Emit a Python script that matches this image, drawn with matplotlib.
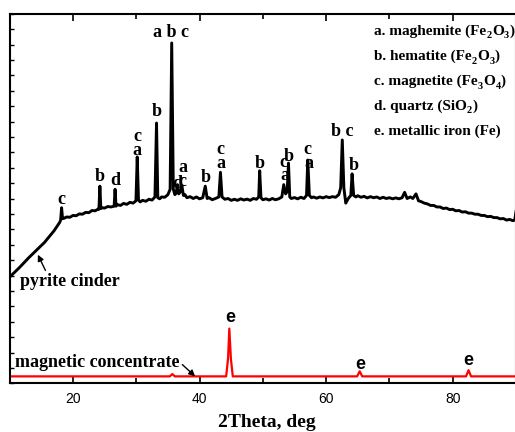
import matplotlib
matplotlib.use("Agg")
import matplotlib.pyplot as plt
from matplotlib.transforms import IdentityTransform

# ---- data ----
cinder_x = [10.0, 10.5, 11.0, 11.5, 12.0, 12.5, 13.0, 13.5, 14.0, 14.5, 15.0, 15.5, 16.0,
            16.5, 17.0, 17.5, 17.9, 18.05, 18.2, 18.35, 18.5, 19.0, 19.5, 20.0, 20.5, 21.0,
            21.5, 22.0, 22.5, 23.0, 23.5, 24.0, 24.1, 24.25, 24.4, 24.5, 25.0, 25.5, 26.0,
            26.5, 26.65, 26.8, 27.0, 27.5, 28.0, 28.5, 29.0, 29.5, 29.95, 30.15, 30.35, 30.6,
            31.0, 31.5, 32.0, 32.5, 32.95, 33.2, 33.4, 33.7, 34.0, 34.5, 35.0, 35.35, 35.6,
            35.85, 36.1, 36.3, 36.5, 36.7, 37.0, 37.2, 37.45, 37.7, 38.0, 38.5, 39.0, 39.5,
            40.0, 40.5, 40.9, 41.2, 41.5, 42.0, 42.5, 43.05, 43.3, 43.55, 44.0, 44.5, 45.0,
            45.5, 46.0, 46.5, 47.0, 47.5, 48.0, 48.5, 49.0, 49.35, 49.5, 49.7, 50.0, 50.5,
            51.0, 51.5, 52.0, 52.5, 53.0, 53.3, 53.6, 53.85, 54.05, 54.25, 54.5, 55.0, 55.5,
            56.0, 56.5, 56.9, 57.1, 57.35, 57.7, 58.0, 58.5, 59.0, 59.5, 60.0, 60.5, 61.0,
            61.5, 62.0, 62.3, 62.55, 62.8, 63.1, 63.5, 63.9, 64.1, 64.35, 64.7, 65.0, 65.5,
            66.0, 66.5, 67.0, 67.5, 68.0, 68.5, 69.0, 69.5, 70.0, 70.5, 71.0, 71.5, 72.0,
            72.4, 72.8, 73.3, 73.7, 74.2, 74.6, 75.0, 75.5, 76.0, 76.5, 77.0, 77.5, 78.0,
            78.5, 79.0, 79.5, 80.0, 80.5, 81.0, 81.5, 82.0, 82.5, 83.0, 83.5, 84.0, 84.5,
            85.0, 85.5, 86.0, 86.5, 87.0, 87.5, 88.0, 88.5, 89.0, 89.5, 89.8, 90.0]
cinder_y = [6.9, 7.1, 7.3, 7.5, 7.72, 7.95, 8.15, 8.35, 8.55, 8.75, 8.95, 9.15, 9.4,
            9.65, 9.9, 10.2, 10.45, 10.6, 11.4, 10.7, 10.7, 10.8, 10.78, 10.9, 10.88, 11.0,
            10.98, 11.1, 11.08, 11.22, 11.2, 11.32, 11.3, 12.8, 11.35, 11.4, 11.38, 11.48, 11.45,
            11.5, 12.6, 11.5, 11.6, 11.55, 11.68, 11.62, 11.75, 11.7, 11.85, 14.7, 11.9, 11.78,
            11.88, 11.82, 11.95, 11.9, 12.1, 16.9, 12.05, 11.98, 12.1, 12.08, 12.25, 12.6, 22.1,
            12.6, 12.25, 12.35, 12.9, 12.3, 12.45, 12.85, 12.2, 12.25, 12.05, 12.12, 12.0, 12.1,
            11.98, 12.05, 12.8, 12.0, 12.05, 11.92, 12.0, 12.1, 13.7, 12.1, 11.95, 12.0, 11.88,
            11.95, 11.88, 11.98, 11.9, 11.96, 11.88, 12.0, 11.95, 12.1, 13.8, 12.05, 11.92, 11.98,
            11.9, 12.0, 11.92, 11.98, 12.1, 12.9, 12.3, 12.45, 14.3, 12.1, 12.0, 12.06, 11.98,
            12.08, 12.0, 12.2, 14.5, 12.2, 12.05, 12.1, 12.02, 12.1, 12.04, 12.12, 12.06, 12.12,
            12.08, 12.25, 12.7, 15.8, 12.7, 11.7, 12.0, 12.2, 13.6, 12.2, 12.1, 12.18, 12.08,
            12.14, 12.04, 12.12, 12.05, 12.1, 12.0, 12.08, 12.0, 12.05, 11.98, 12.04, 11.98, 12.05,
            12.4, 12.0, 12.1, 12.0, 12.3, 11.85, 11.8, 11.7, 11.65, 11.55, 11.55, 11.45, 11.45,
            11.35, 11.38, 11.28, 11.3, 11.2, 11.22, 11.12, 11.14, 11.05, 11.05, 10.98, 10.98, 10.9,
            10.9, 10.82, 10.84, 10.76, 10.76, 10.68, 10.7, 10.6, 10.64, 10.56, 10.6, 11.15]

conc_x = [10.0, 35.3, 35.7, 36.1, 44.2, 44.5, 44.7, 44.95, 45.25, 64.9, 65.3, 65.7,
          82.1, 82.5, 82.9, 90.0]
conc_y = [0.45, 0.45, 0.6, 0.45, 0.45, 1.6, 3.55, 1.6, 0.45, 0.45, 0.78, 0.45,
          0.45, 0.85, 0.45, 0.45]

peak_label_x = [18.2, 24.15, 26.7, 30.15, 30.15, 33.2, 35.45, 36.45, 37.3, 37.3, 40.9,
                43.3, 43.3, 49.55, 53.25, 53.5, 54.15, 57.1, 57.3, 62.6, 64.3]
peak_label_y = [11.95, 13.4, 13.2, 16.0, 15.1, 17.65, 22.75, 13.0, 13.1, 14.0, 13.35,
                15.2, 14.3, 14.3, 14.35, 13.5, 14.75, 15.2, 14.3, 16.35, 14.15]
peak_label_t = ['c', 'b', 'd', 'c', 'a', 'b', 'a b c', 'd', 'c', 'a', 'b',
                'c', 'a', 'b', 'c', 'a', 'b', 'c', 'a', 'b c', 'b']

e_label_x = [44.85, 65.35, 82.4]
e_label_y = [4.25, 1.2, 1.5]

# legend lines as (text, is_subscript) pieces
legend_lines = [
    [('a. maghemite (Fe', False), ('2', True), ('O', False), ('3', True), (')', False)],
    [('b. hematite (Fe', False), ('2', True), ('O', False), ('3', True), (')', False)],
    [('c. magnetite (Fe', False), ('3', True), ('O', False), ('4', True), (')', False)],
    [('d. quartz (SiO', False), ('2', True), (')', False)],
    [('e. metallic iron (Fe)', False)],
]
legend_x = 67.55
legend_y = [22.62, 20.99, 19.37, 17.75, 16.12]

x_ticks = [20, 40, 60, 80]

# ---- figure ----
fig = plt.figure(figsize=(5.15, 4.32), dpi=100)
ax = fig.add_axes([9.7 / 515, 48.7 / 432, 506.3 / 515, 369.6 / 432])

ax.plot(cinder_x, cinder_y, color='black', lw=2.1)
ax.plot(conc_x, conc_y, color='#ff0000', lw=1.6)

serif = 'Liberation Serif'
sans = 'Liberation Sans'
for x, y, t in zip(peak_label_x, peak_label_y, peak_label_t):
    ax.text(x, y, t, ha='center', va='center', family=serif, weight='bold', fontsize=13)
for x, y in zip(e_label_x, e_label_y):
    ax.text(x, y, 'e', ha='center', va='center', family=sans, weight='bold', fontsize=13)

ax.annotate('pyrite cinder', xy=(14.45, 8.35), xytext=(11.6, 6.6),
            ha='left', va='center', family=serif, weight='bold', fontsize=13,
            arrowprops=dict(arrowstyle='-|>', color='black', lw=1.0, mutation_scale=9,
                            shrinkA=0, shrinkB=0, relpos=(0.27, 1.0)))
ax.annotate('magnetic concentrate', xy=(39.3, 0.45), xytext=(10.85, 1.38),
            ha='left', va='center', family=serif, weight='bold', fontsize=13,
            arrowprops=dict(arrowstyle='-|>', color='black', lw=1.0, mutation_scale=9,
                            shrinkA=0, shrinkB=0, relpos=(1.0, 0.5)))

ax.set_xlim(10, 90)
ax.set_ylim(0, 24)
ax.set_xticks(x_ticks)
ax.set_xticks(range(10, 91, 10), minor=True)
ax.set_yticks(range(0, 25))
ax.set_yticklabels([])
ax.tick_params(axis='x', which='both', direction='in', top=True, labelsize=10, pad=6)
ax.tick_params(axis='x', which='major', length=5, width=1.2)
ax.tick_params(axis='x', which='minor', length=3.5, width=1.2)
ax.tick_params(axis='y', which='both', direction='in', length=3, width=1.0, right=False)
for lab in ax.get_xticklabels():
    lab.set_family(sans)
for sp in ax.spines.values():
    sp.set_linewidth(1.5)

ax.set_xlabel('2Theta, deg', family=serif, weight='bold', fontsize=14, labelpad=4)
ax.xaxis.set_label_coords(0.508, -0.083)

# legend text with real subscripts, placed piece by piece
renderer = fig.canvas.get_renderer()
for pieces, ly in zip(legend_lines, legend_y):
    px, py = ax.transData.transform((legend_x, ly))
    for s, sub in pieces:
        t = fig.text(px, py - (3.5 if sub else 0), s, transform=IdentityTransform(),
                     family=serif, weight='bold', fontsize=7.5 if sub else 11,
                     ha='left', va='baseline')
        px += t.get_window_extent(renderer).width + 0.3

fig.savefig('out.png', dpi=100)
